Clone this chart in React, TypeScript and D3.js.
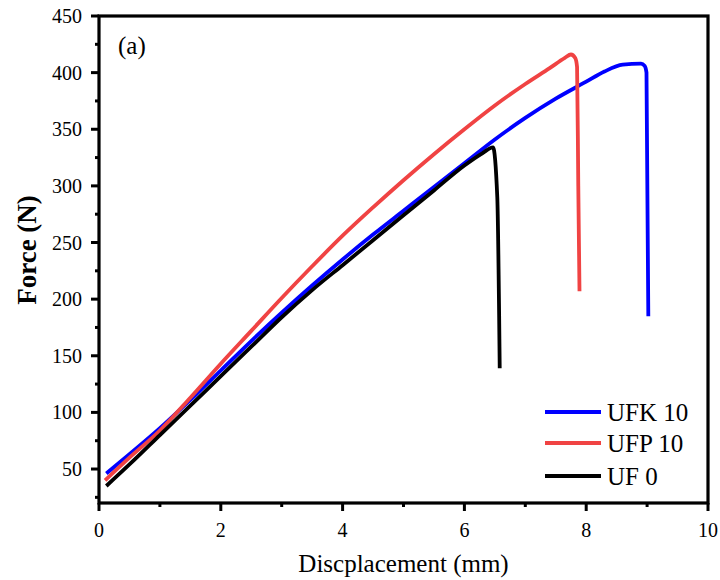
import React, { useEffect, useRef } from "react";
import * as d3 from "d3";

const xTicks = [0, 2, 4, 6, 8, 10];
const yTicks = [50, 100, 150, 200, 250, 300, 350, 400, 450];
const xMinor = [1, 3, 5, 7, 9];
const yMinor = [25, 75, 125, 175, 225, 275, 325, 375, 425];

const ufk10: [number, number][] = [
  [0.12, 46], [0.5, 63], [1.0, 86], [1.5, 111], [2.0, 137], [2.5, 163], [3.0, 188],
  [3.5, 212], [4.0, 235], [4.5, 257], [5.0, 278], [5.5, 299], [6.0, 320], [6.5, 341],
  [7.0, 360], [7.5, 377], [8.0, 392], [8.3, 401], [8.6, 407], [8.9, 408], [8.96, 406],
  [8.99, 400], [9.02, 185],
];
const ufp10: [number, number][] = [
  [0.1, 40], [0.5, 60], [1.0, 84], [1.5, 113], [2.0, 143], [2.5, 172], [3.0, 201],
  [3.5, 229], [4.0, 256], [4.5, 281], [5.0, 305], [5.5, 328], [6.0, 350], [6.5, 371],
  [7.0, 390], [7.4, 404], [7.65, 413], [7.75, 416], [7.82, 413], [7.85, 405],
  [7.87, 300], [7.89, 207],
];
const uf0: [number, number][] = [
  [0.12, 35], [0.5, 54], [1.0, 80], [1.5, 106], [2.0, 132], [2.5, 158], [3.0, 184],
  [3.5, 208], [4.0, 230], [4.5, 252], [5.0, 274], [5.5, 296], [6.0, 318], [6.3, 329],
  [6.47, 334], [6.54, 290], [6.58, 139],
];

const seriesNames = ["UFK 10", "UFP 10", "UF 0"];
const seriesColors = ["#0000ff", "#f04343", "#000000"];
const seriesData = [ufk10, ufp10, uf0];

const FONT = "'Liberation Serif', 'Times New Roman', serif";

export default function App() {
  const ref = useRef<SVGSVGElement>(null);
  useEffect(() => {
    const svg = d3.select(ref.current);
    svg.selectAll("*").remove();
    const L = 99, R = 708, T = 16, B = 503;
    const x = d3.scaleLinear().domain([0, 10]).range([L, R]);
    const y = d3.scaleLinear().domain([20, 450]).range([B, T]);

    const g = svg.append("g");

    const line = d3.line<[number, number]>().x(d => x(d[0])).y(d => y(d[1])).curve(d3.curveMonotoneX);
    seriesData.forEach((data, i) => {
      g.append("path").attr("d", line(data)!).attr("fill", "none")
        .attr("stroke", seriesColors[i]).attr("stroke-width", 3.8)
        .attr("stroke-linejoin", "round");
    });

    // frame
    g.append("rect").attr("x", L).attr("y", T).attr("width", R - L).attr("height", B - T)
      .attr("fill", "none").attr("stroke", "#000").attr("stroke-width", 3.2);

    // ticks
    xTicks.forEach(t => {
      g.append("line").attr("x1", x(t)).attr("x2", x(t)).attr("y1", B).attr("y2", B + 8)
        .attr("stroke", "#000").attr("stroke-width", 3);
      g.append("text").attr("x", x(t)).attr("y", B + 34).attr("text-anchor", "middle")
        .attr("font-family", FONT).attr("font-size", 20).text(t);
    });
    xMinor.forEach(t => {
      g.append("line").attr("x1", x(t)).attr("x2", x(t)).attr("y1", B).attr("y2", B + 4)
        .attr("stroke", "#000").attr("stroke-width", 3);
    });
    yTicks.forEach(t => {
      g.append("line").attr("x1", L - 8).attr("x2", L).attr("y1", y(t)).attr("y2", y(t))
        .attr("stroke", "#000").attr("stroke-width", 3);
      g.append("text").attr("x", L - 17).attr("y", y(t)).attr("dy", "0.35em").attr("text-anchor", "end")
        .attr("font-family", FONT).attr("font-size", 20).text(t);
    });
    yMinor.forEach(t => {
      g.append("line").attr("x1", L - 4).attr("x2", L).attr("y1", y(t)).attr("y2", y(t))
        .attr("stroke", "#000").attr("stroke-width", 3);
    });

    // axis titles
    g.append("text").attr("x", (L + R) / 2).attr("y", 572).attr("text-anchor", "middle")
      .attr("font-family", FONT).attr("font-size", 25).text("Discplacement (mm)");
    g.append("text").attr("transform", `translate(36,250) rotate(-90)`).attr("text-anchor", "middle")
      .attr("font-family", FONT).attr("font-size", 27).attr("font-weight", "bold").text("Force (N)");

    g.append("text").attr("x", 118).attr("y", 54).attr("font-family", FONT).attr("font-size", 25).text("(a)");

    // legend
    const ly = [412, 443, 476];
    seriesNames.forEach((n, i) => {
      g.append("line").attr("x1", 545).attr("x2", 601).attr("y1", ly[i]).attr("y2", ly[i])
        .attr("stroke", seriesColors[i]).attr("stroke-width", 4);
      g.append("text").attr("x", 607).attr("y", ly[i] + 9).attr("font-family", FONT)
        .attr("font-size", 25).text(n);
    });
  }, []);
  return (
    <svg ref={ref} width={720} height={580} style={{ position: "absolute", left: 0, top: 0, background: "#fff" }} />
  );
}
